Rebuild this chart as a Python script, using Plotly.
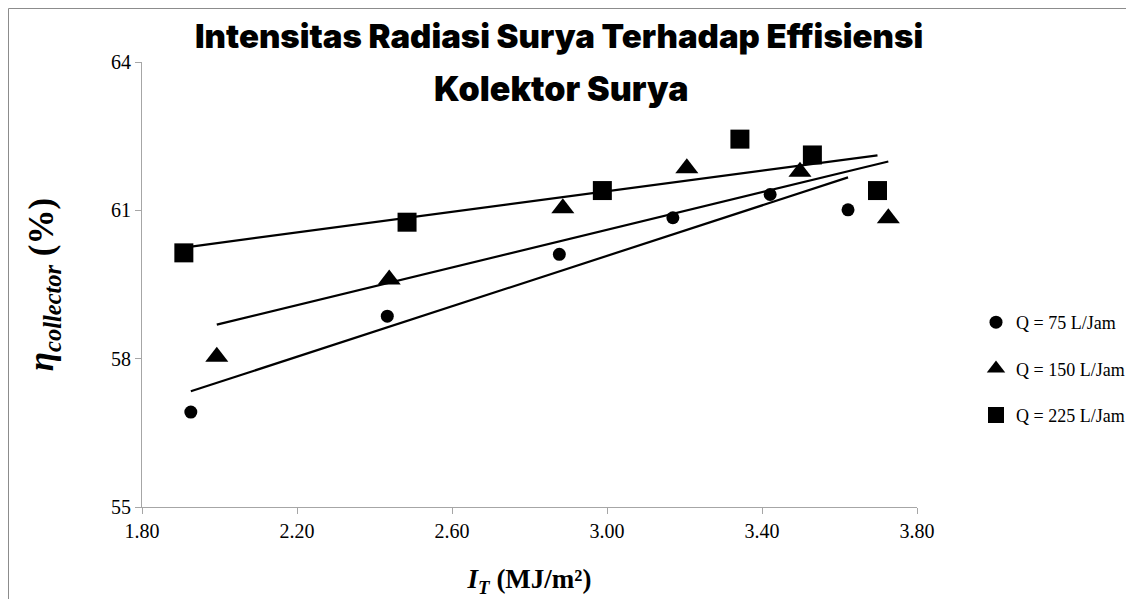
import numpy as np
import plotly.graph_objects as go

# Data
x_q75 = [1.926, 2.433, 2.877, 3.170, 3.421, 3.622]
y_q75 = [56.92, 58.86, 60.11, 60.85, 61.32, 61.01]
x_q150 = [1.993, 2.438, 2.886, 3.206, 3.498, 3.726]
y_q150 = [58.04, 59.60, 61.04, 61.85, 61.78, 60.84]
x_q225 = [1.908, 2.484, 2.988, 3.343, 3.530, 3.698]
y_q225 = [60.14, 60.76, 61.40, 62.44, 62.12, 61.40]
series_names = ["Q = 75 L/Jam", "Q = 150 L/Jam", "Q = 225 L/Jam"]
symbols = ["circle", "triangle-up", "square"]
sizes = [13, 20, 19]
x_ticks = [1.80, 2.20, 2.60, 3.00, 3.40, 3.80]
y_ticks = [55, 58, 61, 64]

SERIF = "Liberation Serif, Times New Roman, serif"
TITLE_FONT = "Inter, Lato, DejaVu Sans, sans-serif"

fig = go.Figure()
all_x = [x_q75, x_q150, x_q225]
all_y = [y_q75, y_q150, y_q225]
for i, (xs, ys) in enumerate(zip(all_x, all_y)):
    fig.add_trace(go.Scatter(
        x=xs, y=ys, mode="markers", name=series_names[i],
        legendgroup=f"g{i}",
        marker=dict(symbol=symbols[i], size=sizes[i], color="black",
                    line=dict(width=0)),
    ))
for i, (xs, ys) in enumerate(zip(all_x, all_y)):
    a, b = np.polyfit(xs, ys, 1)
    xl = np.array([min(xs), max(xs)])
    fig.add_trace(go.Scatter(
        x=xl, y=a * xl + b, mode="lines", showlegend=False,
        line=dict(color="black", width=2.2), hoverinfo="skip",
    ))

# page has an 8px body margin; figure sized to fit the window
OFF = 8
W, H = 1118, 591
L, T = 142 - OFF, 62 - OFF
R = W - (917 - OFF)
B = H - (507 - OFF)
pw, ph = W - L - R, H - T - B

def px(page_x):
    return (page_x - OFF - L) / pw

def py(page_y):
    return (H - B - (page_y - OFF)) / ph

fig.update_layout(
    width=W, height=H,
    margin=dict(l=L, r=R, t=T, b=B, autoexpand=False),
    paper_bgcolor="white", plot_bgcolor="white",
    font=dict(family=SERIF, color="black", size=19),
    showlegend=True,
    legend=dict(
        x=px(976), y=py(304), xanchor="left", yanchor="top",
        traceorder="grouped", tracegroupgap=20,
        font=dict(family=SERIF, size=18, color="black"),
        itemwidth=30, bgcolor="rgba(0,0,0,0)",
    ),
    xaxis=dict(
        range=[1.8, 3.8], tickvals=x_ticks, tickformat=".2f",
        showgrid=False, zeroline=False, showline=True,
        linecolor="#a6a6a6", linewidth=1,
        ticks="outside", ticklen=6, tickcolor="#a6a6a6",
        tickfont=dict(family=SERIF, size=20, color="black"),
        title=dict(text="<b><i>I</i><sub><i>T</i></sub> (MJ/m²)</b>",
                   font=dict(family=SERIF, size=27, color="black"), standoff=28),
    ),
    yaxis=dict(
        range=[55, 64], tickvals=y_ticks,
        showgrid=False, zeroline=False, showline=True,
        linecolor="#a6a6a6", linewidth=1,
        ticks="outside", ticklen=6, tickcolor="#a6a6a6",
        tickfont=dict(family=SERIF, size=20, color="black"),
        title=dict(text="<b><i>η</i><sub style='font-size:30px'><i>collector</i></sub> (%)</b>",
                   font=dict(family=SERIF, size=35, color="black"), standoff=46),
    ),
    shapes=[dict(
        type="rect", xref="paper", yref="paper", layer="below",
        x0=px(8.5), x1=px(1200),
        y0=py(700), y1=py(8.5),
        line=dict(color="#8c8c8c", width=1), fillcolor="rgba(0,0,0,0)",
    )],
    annotations=[
        dict(text="Intensitas Radiasi Surya Terhadap Effisiensi",
             xref="paper", yref="paper", x=px(559), y=py(36),
             xanchor="center", yanchor="middle", showarrow=False,
             font=dict(family=TITLE_FONT, size=33, color="black", weight=900)),
        dict(text="Kolektor Surya",
             xref="paper", yref="paper", x=px(561), y=py(88),
             xanchor="center", yanchor="middle", showarrow=False,
             font=dict(family=TITLE_FONT, size=34, color="black", weight=900)),
    ],
)

fig.write_html("out.html")
